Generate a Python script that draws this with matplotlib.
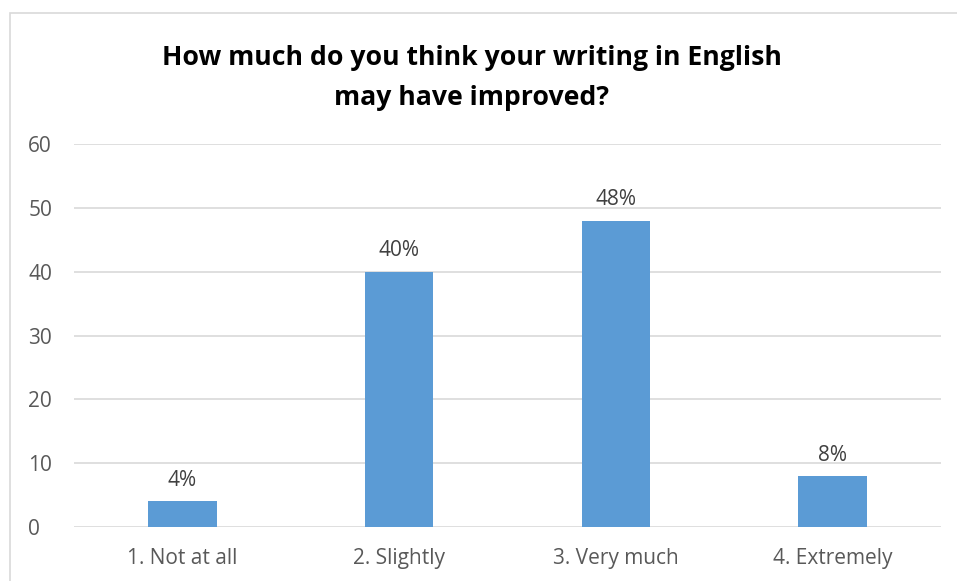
import matplotlib.pyplot as plt
from matplotlib.patches import Rectangle

categories = ["1. Not at all", "2. Slightly", "3. Very much", "4. Extremely"]
values = [4, 40, 48, 8]
labels = ["4%", "40%", "48%", "8%"]
yticks = [0, 10, 20, 30, 40, 50, 60]

title = "How much do you think your writing in English\nmay have improved?"

plt.rcParams["font.family"] = ["Open Sans", "DejaVu Sans"]

W, H = 957, 581
fig = plt.figure(figsize=(W / 100, H / 100), dpi=100)
ax = fig.add_axes([74 / W, (H - 527) / H, 867 / W, 383 / H])

# chart border like the office frame
fig.patches.append(Rectangle((10 / W, -0.05), 1.0, (H - 13) / H + 0.05,
                             transform=fig.transFigure, fill=False,
                             edgecolor="#d9d9d9", linewidth=1.2))

x = list(range(len(categories)))
ax.bar(x, values, width=0.315, color="#5b9bd5", zorder=3)
for xi, v, lab in zip(x, values, labels):
    ax.text(xi, v + 1.6, lab, ha="center", va="bottom",
            fontsize=15, color="#404040")

ax.set_xlim(-0.5, 3.5)
ax.set_ylim(0, 60)
ax.set_yticks(yticks)
ax.set_xticks(x)
ax.set_xticklabels(categories)
ax.grid(axis="y", color="#d9d9d9", linewidth=1.2, zorder=0)
ax.tick_params(length=0, labelsize=15, labelcolor="#595959")
ax.tick_params(axis="y", pad=33)
ax.tick_params(axis="x", pad=15)
for side in ["top", "right", "left", "bottom"]:
    ax.spines[side].set_visible(False)
for lab in ax.get_yticklabels():
    lab.set_horizontalalignment("left")

fig.text(472 / W, 1 - 78 / H, title, ha="center", va="center",
         fontsize=19.2, fontweight="bold", color="black", linespacing=1.72)

fig.savefig("out.png", dpi=100)
